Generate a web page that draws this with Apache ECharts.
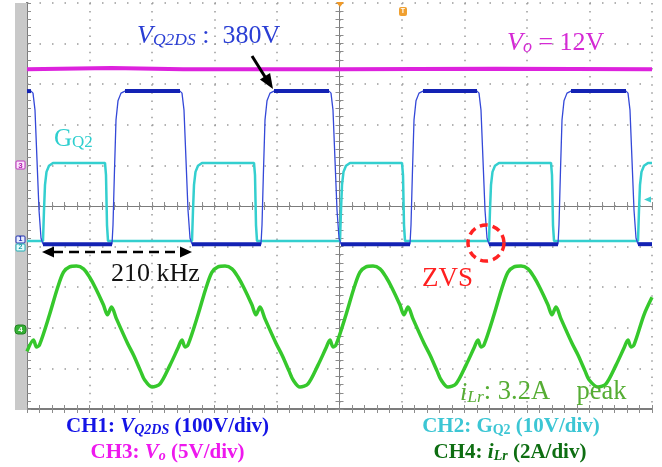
<!DOCTYPE html>
<html><head><meta charset="utf-8">
<script src="https://cdn.jsdelivr.net/npm/echarts@6/dist/echarts.min.js"></script>
<style>html,body{margin:0;padding:0;background:#fff}#c{width:662px;height:467px}</style>
</head><body><div id="c"></div>
<script>
// Time axis: microseconds (2 us/div, 10 div). Vertical: screen divisions (0 = bottom, 10 = top).
const timeTicksUs = [0,2,4,6,8,10,12,14,16,18,20];
const divTicks = [0,1,2,3,4,5,6,7,8,9,10];

// CH1 V_Q2DS (blue)
const vq2dsTime = [0,0.128,0.192,0.256,0.32,0.384,0.448,0.512,
 2.72,2.752,2.8,2.848,2.912,3.008,3.136,
 4.896,4.96,5.024,5.088,5.152,5.216,5.28,
 7.488,7.52,7.568,7.616,7.68,7.776,7.904,
 9.664,9.728,9.792,9.856,9.92,9.984,10.048,
 12.256,12.288,12.336,12.384,12.448,12.544,12.672,
 14.4,14.464,14.528,14.592,14.656,14.72,14.784,
 16.992,17.024,17.072,17.12,17.184,17.28,17.408,
 19.168,19.232,19.296,19.36,19.424,19.488,19.552,
 20];
const vq2dsDiv = [7.83,7.83,7.78,7.36,6.13,4.90,4.21,4.06,
 4.06,4.53,5.89,7.12,7.59,7.78,7.83,
 7.83,7.78,7.36,6.13,4.90,4.21,4.06,
 4.06,4.53,5.89,7.12,7.59,7.78,7.83,
 7.83,7.78,7.36,6.13,4.90,4.21,4.06,
 4.06,4.53,5.89,7.12,7.59,7.78,7.83,
 7.83,7.78,7.36,6.13,4.90,4.21,4.06,
 4.06,4.53,5.89,7.12,7.59,7.78,7.83,
 7.83,7.78,7.36,6.13,4.90,4.21,4.06,
 4.06];

// CH2 G_Q2 (cyan)
const gq2Time = [0,
 0.512,0.544,0.576,0.624,0.704,0.832, 2.496,2.528,2.56,2.592,
 5.28,5.312,5.344,5.392,5.472,5.6, 7.264,7.296,7.328,7.36,
 10.016,10.048,10.08,10.128,10.208,10.336, 12.0,12.032,12.064,12.096,
 14.784,14.816,14.848,14.896,14.976,15.104, 16.768,16.8,16.832,16.864,
 19.552,19.584,19.616,19.664,19.744,19.872, 20];
const gq2Div = [4.14,
 4.14,4.90,5.52,5.84,5.99,6.06, 6.06,5.76,4.53,4.14,
 4.14,4.90,5.52,5.84,5.99,6.06, 6.06,5.76,4.53,4.14,
 4.14,4.90,5.52,5.84,5.99,6.06, 6.06,5.76,4.53,4.14,
 4.14,4.90,5.52,5.84,5.99,6.06, 6.06,5.76,4.53,4.14,
 4.14,4.90,5.52,5.84,5.99,6.06, 6.06];

// CH3 Vo (magenta)
const voTime = [0, 2.7, 5, 10, 15, 20];
const voDiv = [8.37, 8.40, 8.37, 8.37, 8.38, 8.37];

// CH4 iLr (green)
const ilrTime = [0,0.208,0.304,0.4,0.72,0.976,1.168,1.36,1.584,1.808,2.0,2.192,2.448,2.576,2.704,2.864,3.216,3.408,3.632,3.76,
 4.0,4.256,4.576,4.832,4.96,5.056,5.152,5.472,5.728,5.92,6.112,6.336,6.56,6.752,6.944,7.2,7.328,7.456,7.616,7.968,8.16,8.384,8.512,
 8.736,8.992,9.312,9.568,9.696,9.792,9.888,10.208,10.464,10.656,10.848,11.072,11.296,11.488,11.68,11.936,12.064,12.192,12.352,12.704,12.896,13.12,13.248,
 13.472,13.728,14.048,14.304,14.432,14.528,14.624,14.944,15.2,15.392,15.584,15.808,16.032,16.224,16.416,16.672,16.8,16.928,17.088,17.44,17.632,17.856,17.984,
 18.272,18.528,18.848,19.104,19.232,19.328,19.424,19.744,20];
const ilrDiv = [1.42,1.70,1.53,1.58,2.32,2.98,3.37,3.50,3.52,3.45,3.25,2.98,2.56,2.32,2.51,2.22,1.62,1.33,0.94,0.72,
 0.54,0.62,1.08,1.50,1.70,1.53,1.58,2.32,2.98,3.37,3.50,3.52,3.45,3.25,2.98,2.56,2.32,2.51,2.22,1.62,1.33,0.94,0.72,
 0.54,0.62,1.08,1.50,1.70,1.53,1.58,2.32,2.98,3.37,3.50,3.52,3.45,3.25,2.98,2.56,2.32,2.51,2.22,1.62,1.33,0.94,0.72,
 0.54,0.62,1.08,1.50,1.70,1.53,1.58,2.32,2.98,3.37,3.50,3.52,3.45,3.25,2.98,2.56,2.32,2.51,2.22,1.62,1.33,0.94,0.72,
 0.54,0.62,1.08,1.50,1.70,1.53,1.58,2.32,2.75];

const SERIF = "'Liberation Serif','Times New Roman',serif";
const pair = (ts, vs) => ts.map((t, i) => [t, vs[i]]);

const gridGray = '#9a9a9a', frameGray = '#7c7c7c', tickGray = '#8c8c8c';
function xAx(opts) {
  return Object.assign({type:'value', min:timeTicksUs[0], max:timeTicksUs[timeTicksUs.length-1], interval:2,
    axisLabel:{show:false}, splitLine:{show:false},
    axisLine:{show:true, lineStyle:{color:frameGray, width:2}},
    axisTick:{show:true, inside:true, length:4, lineStyle:{color:tickGray}},
    minorTick:{show:true, splitNumber:5, length:4, lineStyle:{color:tickGray}}}, opts);
}
function yAx(opts) {
  return Object.assign({type:'value', min:divTicks[0], max:divTicks[divTicks.length-1], interval:1,
    axisLabel:{show:false}, splitLine:{show:false},
    axisLine:{show:true, lineStyle:{color:frameGray, width:2}},
    axisTick:{show:true, inside:true, length:4, lineStyle:{color:tickGray}},
    minorTick:{show:true, splitNumber:5, length:4, lineStyle:{color:tickGray}}}, opts);
}

const series = [];
series.push({type:'line', data:pair(gq2Time, gq2Div), showSymbol:false, lineStyle:{color:'#34cfcf', width:2.5}, z:3});
series.push({type:'line', data:pair(vq2dsTime, vq2dsDiv), showSymbol:false, lineStyle:{color:'#3448d8', width:1.3}, z:4});
for (let i = 0; i < vq2dsTime.length - 1; i++) {
  if (vq2dsDiv[i] === vq2dsDiv[i+1]) {
    series.push({type:'line', data:[[vq2dsTime[i], vq2dsDiv[i]], [vq2dsTime[i+1], vq2dsDiv[i+1]]],
      showSymbol:false, lineStyle:{color:'#1322b4', width:4}, z:5});
  }
}
series.push({type:'line', data:pair(voTime, voDiv), showSymbol:false, lineStyle:{color:'#dd22dd', width:4}, z:5});
series.push({type:'line', data:pair(ilrTime, ilrDiv), showSymbol:false, smooth:0.3, lineStyle:{color:'#36c82c', width:3.5}, z:6});
series.forEach(s => { s.xAxisIndex = 0; s.yAxisIndex = 0; s.silent = true; s.animation = false; });

function rt(x, y, text, rich, align) {
  return {type:'text', x, y, z:100, silent:true,
    style:{text, rich, align: align || 'left', verticalAlign:'middle'}};
}
function tok(color, size, lh, italic, bold) {
  return {fill:color, fontFamily:SERIF, fontSize:size, lineHeight:lh, fontStyle: italic ? 'italic' : 'normal',
    fontWeight: bold ? 'bold' : 'normal', verticalAlign:'bottom'};
}

const blueT = '#2a3ed4', magT = '#d52ad5', cyanT = '#2fcfcf', greenT = '#56ad34';
const graphic = [
  {type:'rect', shape:{x:15, y:3, width:12, height:407}, style:{fill:'#c9c9c9'}, z:1, silent:true},
  // channel markers
  {type:'rect', shape:{x:16, y:161, width:9, height:8, r:1}, style:{fill:'#fbe6fb', stroke:'#c030c0', lineWidth:1}, z:50},
  {type:'text', x:20.5, y:165.5, z:51, style:{text:'3', fill:'#b020b0', font:'bold 8px sans-serif', align:'center', verticalAlign:'middle'}},
  {type:'rect', shape:{x:16, y:236, width:9, height:7, r:1}, style:{fill:'#e8ecff', stroke:'#2030b0', lineWidth:1}, z:50},
  {type:'text', x:20.5, y:239.5, z:51, style:{text:'1', fill:'#2030b0', font:'bold 7px sans-serif', align:'center', verticalAlign:'middle'}},
  {type:'rect', shape:{x:16, y:244, width:9, height:7, r:1}, style:{fill:'#e6fbfb', stroke:'#20b0b8', lineWidth:1}, z:50},
  {type:'text', x:20.5, y:247.5, z:51, style:{text:'2', fill:'#20a0a8', font:'bold 7px sans-serif', align:'center', verticalAlign:'middle'}},
  {type:'rect', shape:{x:15, y:325, width:11, height:9, r:3}, style:{fill:'#36b036', stroke:'#208020', lineWidth:1}, z:50},
  {type:'text', x:20.5, y:329.5, z:51, style:{text:'4', fill:'#ffffff', font:'bold 8px sans-serif', align:'center', verticalAlign:'middle'}},
  // trigger markers
  {type:'polygon', shape:{points:[[336,2],[344,2],[340,7]]}, style:{fill:'#f09a28'}, z:50},
  {type:'rect', shape:{x:399, y:7, width:8, height:9, r:2}, style:{fill:'#f0a030'}, z:50},
  {type:'text', x:403, y:11.5, z:51, style:{text:'T', fill:'#ffffff', font:'bold 7px sans-serif', align:'center', verticalAlign:'middle'}},
  {type:'polygon', shape:{points:[[644,199.5],[651,196.5],[651,202.5]]}, style:{fill:'#40d0d0'}, z:50},
  // annotations
  rt(137, 36.5, '{v|V}{s|Q2DS}{n| :  380V}', {v:tok(blueT,26,26,true), s:tok(blueT,17.5,8,true), n:tok(blueT,26,26,false)}),
  {type:'line', shape:{x1:252, y1:56, x2:267, y2:80}, style:{stroke:'#000', lineWidth:3}, z:60},
  {type:'polygon', shape:{points:[[273,89],[259.9,79.5],[270.1,73.1]]}, style:{fill:'#000'}, z:60},
  rt(507, 43, '{v|V}{s|o}{n| = 12V}', {v:tok(magT,26,26,true), s:tok(magT,18,8,true), n:tok(magT,26,26,false)}),
  rt(54, 138.5, '{n|G}{s|Q2}', {n:tok(cyanT,25,26,false), s:tok(cyanT,17,8,false)}),
  {type:'line', shape:{x1:53, y1:252, x2:182, y2:252}, style:{stroke:'#000', lineWidth:2.5, lineDash:[10,6]}, z:60},
  {type:'polygon', shape:{points:[[42,252],[54,246.5],[54,257.5]]}, style:{fill:'#000'}, z:60},
  {type:'polygon', shape:{points:[[192,252],[180,246.5],[180,257.5]]}, style:{fill:'#000'}, z:60},
  rt(111, 274, '{n|210 kHz}', {n:tok('#111',26,26,false)}),
  {type:'circle', shape:{cx:486, cy:243, r:18}, style:{fill:null, stroke:'#ff2222', lineWidth:3.5, lineDash:[8,5]}, z:60},
  rt(422, 279.5, '{n|ZVS}', {n:tok('#ff2020',27,26,false)}),
  rt(460, 393, '{v|i}{s|Lr}{n|: 3.2A    peak}', {v:tok(greenT,26,26,true), s:tok(greenT,17.5,8,true), n:tok(greenT,26.5,26,false)}),
  // bottom legends
  rt(167.5, 426, '{n|CH1: }{v|V}{s|Q2DS}{n| (100V/div)}', {n:tok('#1414e6',21,22,false,true), v:tok('#1414e6',21,22,true,true), s:tok('#1414e6',14,6,true,true)}, 'center'),
  rt(167.5, 452, '{n|CH3: }{v|V}{s|o}{n| (5V/div)}', {n:tok('#ee18ee',21,22,false,true), v:tok('#ee18ee',21,22,true,true), s:tok('#ee18ee',14,6,true,true)}, 'center'),
  rt(511, 426, '{n|CH2: G}{s|Q2}{n| (10V/div)}', {n:tok('#3cc6d4',21,22,false,true), s:tok('#3cc6d4',14,6,false,true)}, 'center'),
  rt(510, 452, '{n|CH4: }{v|i}{s|Lr}{n| (2A/div)}', {n:tok('#0e6e12',21,22,false,true), v:tok('#0e6e12',21,22,true,true), s:tok('#0e6e12',14,6,true,true)}, 'center')
];

const option = {
  animation:false,
  backgroundColor:'#ffffff',
  grid:{left:27, top:3, width:625, height:406, containLabel:false},
  xAxis:[
    xAx({position:'bottom', splitLine:{show:true, lineStyle:{color:gridGray, width:1.5, type:[1.5,6.62]}}}),
    xAx({position:'top'}),
    xAx({position:'bottom', offset:-203, axisLine:{show:true, lineStyle:{color:frameGray, width:1}}}),
    xAx({position:'bottom', offset:-203, axisLine:{show:false}, axisTick:{show:true, inside:false, length:4, lineStyle:{color:tickGray}}, minorTick:{show:true, splitNumber:5, length:4, lineStyle:{color:tickGray}}})
  ],
  yAxis:[
    yAx({position:'left', splitLine:{show:true, lineStyle:{color:gridGray, width:1.5, type:[1.5,11]}}}),
    yAx({position:'right'}),
    yAx({position:'left', offset:-312.5, axisLine:{show:true, lineStyle:{color:frameGray, width:1}}}),
    yAx({position:'left', offset:-312.5, axisLine:{show:false}, axisTick:{show:true, inside:false, length:4, lineStyle:{color:tickGray}}, minorTick:{show:true, splitNumber:5, length:4, lineStyle:{color:tickGray}}})
  ],
  series,
  graphic
};
const chart = echarts.init(document.getElementById('c'), null, {renderer:'canvas'});
chart.setOption(option);
</script></body></html>
